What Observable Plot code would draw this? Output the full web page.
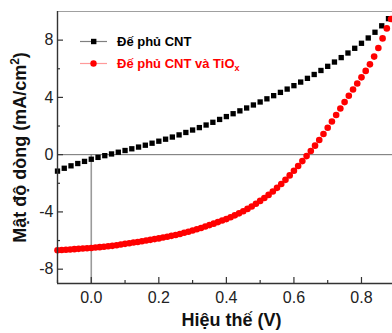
<!DOCTYPE html>
<html><head><meta charset="utf-8">
<script src="https://cdn.jsdelivr.net/npm/d3@7"></script>
<script src="https://cdn.jsdelivr.net/npm/@observablehq/plot@0.6"></script>
<style>
html,body{margin:0;padding:0;background:#fff;}
#chart{position:relative;width:392px;height:333px;overflow:hidden;}
</style></head><body><div id="chart"></div>
<script>
const voltageCNT = [-0.1,-0.08,-0.06,-0.04,-0.02,0,0.02,0.04,0.06,0.08,
  0.1,0.12,0.14,0.16,0.18,0.2,0.22,0.24,0.26,0.28,
  0.3,0.32,0.34,0.36,0.38,0.4,0.42,0.44,0.46,0.48,
  0.5,0.52,0.54,0.56,0.58,0.6,0.62,0.64,0.66,0.68,
  0.7,0.72,0.74,0.76,0.78,0.8,0.82,0.84,0.86,0.88];
const currentCNT = [-1.15,-0.95,-0.78,-0.62,-0.47,-0.32,-0.19,-0.07,0.05,0.17,
  0.29,0.41,0.53,0.66,0.80,0.94,1.08,1.23,1.38,1.55,
  1.72,1.89,2.07,2.26,2.46,2.66,2.86,3.06,3.26,3.47,
  3.68,3.90,4.12,4.35,4.58,4.82,5.07,5.33,5.60,5.88,
  6.17,6.47,6.78,7.10,7.43,7.78,8.15,8.55,9.00,9.50];
const voltageTiOx = [-0.1,-0.0875,-0.075,-0.0625,-0.05,-0.0375,-0.025,-0.0125,0,0.0125,
  0.025,0.0375,0.05,0.0625,0.075,0.0875,0.1,0.1125,0.125,0.1375,
  0.15,0.1625,0.175,0.1875,0.2,0.2125,0.225,0.2375,0.25,0.2625,
  0.275,0.2875,0.3,0.3125,0.325,0.3375,0.35,0.3625,0.375,0.3875,
  0.4,0.4125,0.425,0.4375,0.45,0.4625,0.475,0.4875,0.5,0.5125,
  0.525,0.5375,0.55,0.5625,0.575,0.5875,0.6,0.6125,0.625,0.6375,
  0.65,0.6625,0.675,0.6875,0.7,0.7125,0.725,0.7375,0.75,0.7625,
  0.775,0.7875,0.8,0.8125,0.825,0.8375,0.85,0.8625,0.875,0.8875,0.9];
const currentTiOx = [-6.68,-6.66,-6.64,-6.62,-6.60,-6.58,-6.56,-6.54,-6.52,-6.49,
  -6.46,-6.43,-6.40,-6.37,-6.33,-6.28,-6.23,-6.19,-6.14,-6.10,
  -6.05,-6.00,-5.95,-5.90,-5.85,-5.79,-5.73,-5.67,-5.61,-5.54,
  -5.46,-5.38,-5.30,-5.21,-5.12,-5.02,-4.92,-4.82,-4.71,-4.60,
  -4.50,-4.37,-4.24,-4.10,-3.95,-3.79,-3.62,-3.43,-3.23,-3.03,
  -2.81,-2.57,-2.32,-2.05,-1.76,-1.45,-1.12,-0.79,-0.45,-0.10,
  0.26,0.63,1.02,1.44,1.88,2.32,2.77,3.22,3.67,4.11,
  4.55,4.97,5.40,5.85,6.31,6.85,7.45,8.12,8.82,9.48,10.1];
const xTicks = [0, 0.2, 0.4, 0.6, 0.8];
const xMinorTicks = [-0.1, 0.1, 0.3, 0.5, 0.7, 0.9];
const yTicks = [-8, -4, 0, 4, 8];
const yMinorTicks = [-6, -2, 2, 6];
const seriesLabels = ["Đế phủ CNT", "Đế phủ CNT và TiO"];
const seriesSub = ["", "x"];
const seriesColors = ["#000000", "#ff0000"];
const legendLineColors = ["#808080", "#ff9a9a"];
const xTitle = "Hiệu thế (V)";
const yTitle = "Mật độ dòng (mA/cm";

const FONT = '"Liberation Sans", Arial, sans-serif';
const cnt = voltageCNT.map((v, i) => ({v, j: currentCNT[i]}));
const tio = voltageTiOx.map((v, i) => ({v, j: currentTiOx[i]}));

const plot = Plot.plot({
  width: 392, height: 333,
  marginLeft: 57, marginTop: 11, marginBottom: 50, marginRight: 0,
  x: {domain: [-0.1, 0.9], range: [57, 394.75]},
  y: {domain: [-9, 10]},
  style: {fontFamily: FONT, fontSize: "16px", color: "#222", background: "transparent"},
  marks: [
    Plot.ruleY([10], {stroke: "#a0a0a0", strokeWidth: 1}),
    Plot.ruleX([0], {y1: 0, y2: -9, stroke: "#9a9a9a", strokeWidth: 1.6}),
    Plot.ruleY([0], {stroke: "#707070", strokeWidth: 1}),
    Plot.dot(cnt, {x: "v", y: "j", symbol: "square", r: 3, fill: seriesColors[0], stroke: null}),
    Plot.dot(tio, {x: "v", y: "j", r: 3.3, fill: seriesColors[1], stroke: null}),
    Plot.ruleX([-0.1], {stroke: "#333", strokeWidth: 1.4}),
    Plot.ruleY([-9], {stroke: "#333", strokeWidth: 1.4}),
    Plot.ruleX(xTicks, {y1: -9, y2: -9, insetTop: -6, stroke: "#333", strokeWidth: 1.2}),
    Plot.ruleX(xMinorTicks, {y1: -9, y2: -9, insetTop: -3, stroke: "#333", strokeWidth: 1.2}),
    Plot.ruleY(yTicks, {x1: -0.1, x2: -0.1, insetRight: -6, stroke: "#333", strokeWidth: 1.2}),
    Plot.ruleY(yMinorTicks, {x1: -0.1, x2: -0.1, insetRight: -3, stroke: "#333", strokeWidth: 1.2}),
    Plot.axisX(xTicks, {tickSize: 0, tickPadding: 8, tickFormat: d => d.toFixed(1), fontSize: 16, label: null}),
    Plot.axisY(yTicks, {tickSize: 0, tickPadding: 4, tickFormat: d => String(d), fontSize: 16, label: null})
  ]
});

const svg = d3.select(plot);
// legend
const lg = svg.append("g").attr("font-family", FONT).attr("font-weight", "bold").attr("font-size", 13)
  .attr("text-anchor", "start");
const rowsY = [41.5, 63.5];
seriesLabels.forEach((lab, i) => {
  const y = rowsY[i];
  lg.append("line").attr("x1", 80).attr("x2", 107).attr("y1", y).attr("y2", y)
    .attr("stroke", legendLineColors[i]).attr("stroke-width", 1.2);
  if (i === 0) {
    lg.append("rect").attr("x", 91).attr("y", y - 2.7).attr("width", 5.4).attr("height", 5.4).attr("fill", seriesColors[0]);
  } else {
    lg.append("circle").attr("cx", 93.5).attr("cy", y).attr("r", 3.2).attr("fill", seriesColors[1]);
  }
  const t = lg.append("text").attr("x", 117).attr("y", y + 4.6).attr("fill", seriesColors[i])
    .attr("text-anchor", "start").text(lab);
  if (seriesSub[i]) t.append("tspan").attr("font-size", 9).attr("dy", 3).text(seriesSub[i]);
});
// axis titles
svg.append("text").attr("x", 231.5).attr("y", 326).attr("text-anchor", "middle")
  .attr("font-family", FONT).attr("font-weight", "bold").attr("font-size", 18).attr("fill", "#111").text(xTitle);
const yt = svg.append("text").attr("transform", "translate(26,147.5) rotate(-90)").attr("text-anchor", "middle")
  .attr("font-family", FONT).attr("font-weight", "bold").attr("font-size", 18).attr("fill", "#111");
yt.append("tspan").text(yTitle);
yt.append("tspan").attr("font-size", 12).attr("dy", -7).text("2");
yt.append("tspan").attr("dy", 7).text(")");

document.getElementById("chart").appendChild(plot);
</script>
</body></html>
